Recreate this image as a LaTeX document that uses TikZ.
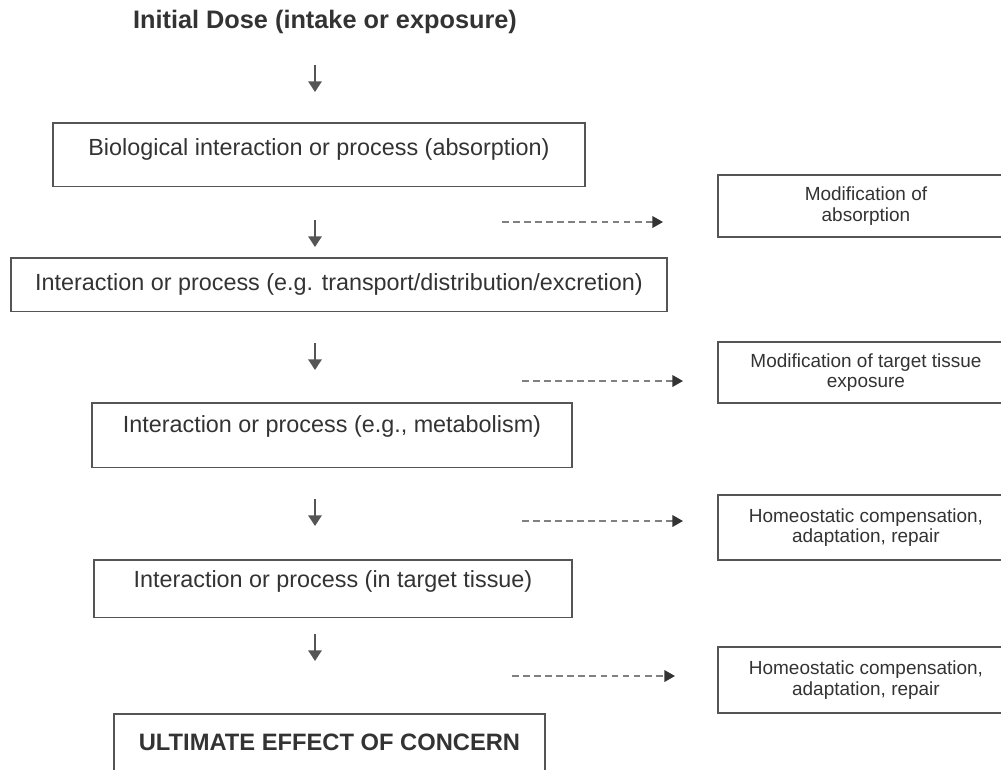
\documentclass[tikz,border=0pt]{standalone}
\usepackage{fontspec}
\setmainfont{Liberation Sans}
\usetikzlibrary{arrows.meta}
\definecolor{ink}{HTML}{333333}
\definecolor{rule}{HTML}{555555}
\definecolor{dashgray}{HTML}{808080}

\begin{document}
\begin{tikzpicture}[x=0.02cm, y=-0.02cm,
	proc/.style={draw=rule, line width=0.75pt, text=ink, inner ysep=0pt, outer sep=0pt, anchor=north west, font=\fontsize{13.3}{16}\selectfont},
	side/.style={text=ink, align=center, inner ysep=0pt, outer sep=0pt, anchor=north west, minimum width=5.92cm, font=\fontsize{10.8}{11.6}\selectfont},
	frame/.style={draw=rule, line width=0.75pt},
	down/.style={draw=rule, line width=1.1pt, -{Triangle[width=7.5pt,length=6pt]}},
	aside/.style={draw=dashgray, line width=1.1pt, dash pattern=on 3.8pt off 2.5pt, -{Triangle[width=6.5pt,length=6pt,color=ink]}}]
\useasboundingbox (0,0) rectangle (1001,769);
\clip (0,0) rectangle (1001,769);

\node[text=ink, font=\bfseries\fontsize{14.4}{17}\selectfont] (dose) at (325,22) {Initial Dose (intake or exposure)};

\node[proc, minimum width=10.64cm, text height=18.5pt, text depth=17.7pt] (absorb) at (53,123) {Biological interaction or process (absorption)};
\node[proc, minimum width=13.12cm, text height=18.5pt, text depth=12.1pt] (transport) at (11,258) {Interaction or process (e.g. transport/distribution/excretion)};
\node[proc, minimum width=9.6cm, text height=16.8pt, text depth=20pt] (metab) at (92,403) {Interaction or process (e.g., metabolism)};
\node[proc, minimum width=9.56cm, text height=15.7pt, text depth=17.2pt] (tissue) at (94,560) {Interaction or process (in target tissue)};
\node[proc, minimum width=8.62cm, text height=20.8pt, text depth=20pt, font=\bfseries\fontsize{13.5}{16}\selectfont] (effect) at (114,714) {ULTIMATE EFFECT OF CONCERN};

\node[side, minimum height=1.24cm] (modA) at (718,175) {Modification of\\absorption};
\node[side, minimum height=1.22cm] (modB) at (718,342) {Modification of target tissue\\exposure};
\node[side, minimum height=1.3cm] (homA) at (718,495) {Homeostatic compensation,\\adaptation, repair};
\node[side, minimum height=1.32cm] (homB) at (718,647) {Homeostatic compensation,\\adaptation, repair};

\foreach \n in {modA, modB, homA, homB}
{
	\draw[frame] (\n.north east) ++(40,0) -- (\n.north west) -- (\n.south west) -- ++(306,0);
}

\foreach \n/\y in {1/65, 2/220, 3/343, 4/499, 5/634}
{
	\coordinate (vs\n) at (315,\y);
	\coordinate (ve\n) at (315,\y+27);
	\draw[down] (vs\n) -- (ve\n);
}

\foreach \n/\a/\b/\y in {1/502/663/222, 2/522/683/381, 3/522/683/521, 4/512/675/676}
{
	\coordinate (ds\n) at (\a,\y);
	\coordinate (de\n) at (\b,\y);
	\draw[aside] (ds\n) -- (de\n);
}
\end{tikzpicture}
\end{document}
